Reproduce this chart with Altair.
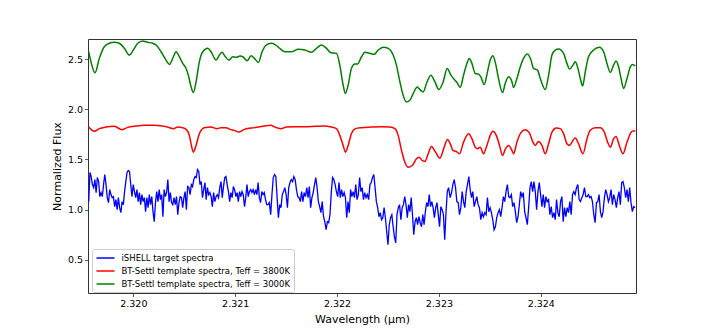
import altair as alt
import numpy as np
import pandas as pd

# ---------------- data ----------------
S_BLUE = "iSHELL target spectra"
S_RED = "BT-Settl template spectra, Teff = 3800K"
S_GREEN = "BT-Settl template spectra, Teff = 3000K"

X_DOMAIN = [2.319555, 2.324935]
Y_DOMAIN = [0.17, 2.70]
X_TICKS = [2.320, 2.321, 2.322, 2.323, 2.324]
Y_TICKS = [0.5, 1.0, 1.5, 2.0, 2.5]

# iSHELL observed spectrum: three stretches of detector pixels (start, end wavelength)
blue_ranges = [(2.319562, 2.321310), (2.321323, 2.323095), (2.323111, 2.324925)]
blue_flux_1 = [
    1.08, 1.37, 1.33, 1.25, 1.22, 1.30, 1.17, 1.32, 1.28, 1.13,
    1.17, 1.13, 1.25, 1.35, 1.25, 1.12, 1.07, 1.20, 1.15, 1.12,
    1.13, 1.03, 1.10, 1.00, 1.12, 1.02, 0.97, 1.08, 1.05, 1.18,
    1.28, 1.37, 1.39, 1.38, 1.25, 1.13, 1.25, 1.18, 1.12, 1.20,
    1.08, 1.17, 1.05, 1.15, 1.08, 1.12, 0.98, 1.12, 1.02, 1.15,
    1.05, 1.13, 0.98, 0.88, 1.07, 1.18, 1.08, 1.20, 1.10, 1.15,
    0.93, 1.20, 1.13, 1.17, 1.30, 1.08, 1.17, 1.07, 1.05, 1.12,
    1.05, 1.13, 0.95, 1.07, 1.13, 1.12, 1.02, 1.12, 1.18, 1.00,
    1.23, 1.22, 1.15, 1.25, 1.23, 1.30, 1.33, 1.32, 1.40, 1.38,
    1.25, 1.28, 1.12, 1.20, 1.27, 1.10, 1.22, 1.15, 1.17, 1.13,
    1.03, 1.17, 1.08, 1.13, 1.15, 1.12, 1.22, 1.28, 1.12, 1.23,
    1.32, 1.33, 1.25, 1.18, 1.08, 1.17, 1.12, 1.23, 1.20, 1.13,
    1.17, 1.08, 1.18, 1.13, 1.18, 1.15, 1.03, 1.12, 1.25, 1.13,
    1.18, 1.20, 1.17, 1.20, 1.15, 1.20, 1.15, 1.27, 1.12, 1.07,
    1.18, 1.15, 1.17, 1.10, 1.05,
]
blue_flux_2 = [
    1.05, 1.07, 0.95, 1.15, 1.32, 1.35, 1.33, 1.12, 0.92, 1.05,
    1.02, 1.15, 1.18, 1.22, 1.15, 1.02, 1.22, 1.27, 1.30, 1.28,
    1.33, 1.30, 1.20, 1.13, 1.12, 1.08, 1.18, 1.08, 1.17, 1.13,
    1.22, 1.12, 1.23, 1.02, 1.12, 1.17, 1.25, 1.32, 1.22, 1.08,
    1.03, 0.97, 1.08, 0.93, 0.88, 0.80, 0.88, 0.87, 0.95, 1.17,
    1.32, 1.30, 1.25, 1.18, 1.13, 1.27, 1.12, 1.20, 1.13, 1.17,
    1.12, 0.92, 1.08, 0.97, 1.20, 1.13, 1.18, 1.12, 1.25, 1.10,
    1.15, 1.32, 1.18, 1.22, 1.10, 1.17, 1.12, 1.15, 1.10, 1.25,
    1.27, 1.32, 1.35, 1.22, 1.08, 1.02, 0.93, 0.97, 0.90, 0.92,
    1.02, 0.92, 0.78, 0.65, 0.85, 0.92, 0.95, 0.83, 0.73, 0.67,
    0.95, 1.02, 1.05, 0.90, 1.02, 1.05, 1.13, 1.05, 0.92, 1.05,
    0.98, 1.12, 0.95, 0.75, 0.88, 0.92, 0.85, 0.93, 0.87, 0.83,
    0.95, 0.85, 0.98, 1.07, 1.03, 1.15, 1.03, 1.08, 1.02, 0.92,
    1.02, 1.07, 0.95, 0.83, 1.03, 1.00, 0.95, 0.70, 0.97, 1.18,
    1.22,
]
blue_flux_3 = [
    1.12, 1.17, 1.25, 1.30, 1.22, 1.08, 1.07, 0.95, 1.02, 1.18,
    1.08, 1.02, 1.18, 1.25, 1.33, 1.20, 1.12, 1.18, 1.03, 1.08,
    1.13, 1.05, 1.02, 0.90, 0.97, 0.93, 0.97, 0.95, 1.12, 0.98,
    1.02, 0.97, 0.90, 0.80, 0.83, 0.92, 0.97, 1.00, 0.93, 1.02,
    1.13, 1.08, 1.18, 1.25, 1.13, 1.12, 1.15, 1.03, 1.07, 0.98,
    0.87, 0.93, 1.05, 1.18, 1.13, 1.17, 0.98, 0.92, 0.85, 1.02,
    1.22, 1.28, 1.18, 1.28, 1.18, 1.00, 1.18, 1.27, 1.15, 1.03,
    1.15, 1.02, 1.13, 1.08, 1.10, 0.95, 1.03, 0.92, 0.97, 0.90,
    1.10, 0.97, 0.93, 1.08, 1.13, 0.88, 1.02, 0.93, 1.02, 0.97,
    1.08, 0.95, 1.15, 1.18, 1.15, 1.22, 1.25, 1.10, 1.08, 1.12,
    1.15, 1.22, 1.13, 1.13, 1.15, 1.12, 1.13, 1.08, 0.95, 0.87,
    1.07, 1.08, 1.15, 0.98, 0.92, 0.98, 1.12, 1.20, 1.15, 1.08,
    1.12, 1.20, 1.05, 1.15, 1.10, 1.02, 1.12, 1.18, 1.05, 1.27,
    1.28, 1.22, 1.12, 1.20, 1.08, 1.22, 1.07, 0.98, 1.03, 1.02,
]

green_wave = [
    2.319562, 2.319584, 2.319624, 2.319666, 2.319715, 2.319764, 2.319813, 2.319862,
    2.319912, 2.319961, 2.320010, 2.320043, 2.320092, 2.320141, 2.320191, 2.320223,
    2.320272, 2.320321, 2.320354, 2.320393, 2.320419, 2.320452, 2.320485, 2.320518,
    2.320540, 2.320567, 2.320589, 2.320616, 2.320648, 2.320682, 2.320731, 2.320763,
    2.320812, 2.320845, 2.320871, 2.320904, 2.320937, 2.320976, 2.321009, 2.321048,
    2.321075, 2.321117, 2.321156, 2.321189, 2.321228, 2.321264, 2.321304, 2.321353,
    2.321389, 2.321438, 2.321487, 2.321552, 2.321618, 2.321684, 2.321748, 2.321798,
    2.321847, 2.321896, 2.321939, 2.321994, 2.322027, 2.322060, 2.322082, 2.322109,
    2.322141, 2.322175, 2.322200, 2.322240, 2.322273, 2.322322, 2.322364, 2.322404,
    2.322453, 2.322502, 2.322551, 2.322583, 2.322617, 2.322649, 2.322679, 2.322715,
    2.322748, 2.322787, 2.322819, 2.322846, 2.322878, 2.322921, 2.322961, 2.323000,
    2.323042, 2.323081, 2.323118, 2.323143, 2.323177, 2.323209, 2.323242, 2.323275,
    2.323298, 2.323324, 2.323356, 2.323389, 2.323412, 2.323445, 2.323477, 2.323504,
    2.323530, 2.323556, 2.323585, 2.323625, 2.323651, 2.323684, 2.323717, 2.323733,
    2.323766, 2.323799, 2.323831, 2.323870, 2.323904, 2.323929, 2.323968, 2.323995,
    2.324044, 2.324077, 2.324110, 2.324142, 2.324175, 2.324224, 2.324257, 2.324283,
    2.324316, 2.324339, 2.324365, 2.324388, 2.324411, 2.324437, 2.324469, 2.324519,
    2.324575, 2.324617, 2.324650, 2.324683, 2.324715, 2.324739, 2.324764, 2.324788,
    2.324813, 2.324847, 2.324879, 2.324902, 2.324928,
]
green_flux = [
    2.573, 2.473, 2.363, 2.507, 2.623, 2.657, 2.667, 2.657,
    2.607, 2.540, 2.607, 2.657, 2.680, 2.667, 2.657, 2.640,
    2.573, 2.490, 2.447, 2.523, 2.573, 2.523, 2.457, 2.407,
    2.340, 2.223, 2.167, 2.273, 2.473, 2.573, 2.607, 2.573,
    2.490, 2.540, 2.567, 2.523, 2.490, 2.523, 2.517, 2.530,
    2.523, 2.483, 2.533, 2.507, 2.467, 2.573, 2.640, 2.657,
    2.647, 2.607, 2.573, 2.573, 2.597, 2.590, 2.567, 2.607,
    2.640, 2.607, 2.563, 2.557, 2.440, 2.240, 2.157, 2.240,
    2.407, 2.450, 2.450, 2.523, 2.567, 2.557, 2.547, 2.590,
    2.617, 2.607, 2.540, 2.440, 2.273, 2.140, 2.073, 2.090,
    2.157, 2.223, 2.190, 2.173, 2.257, 2.340, 2.273, 2.197,
    2.273, 2.407, 2.340, 2.307, 2.267, 2.217, 2.340, 2.457,
    2.507, 2.457, 2.357, 2.350, 2.323, 2.247, 2.373, 2.490,
    2.533, 2.457, 2.307, 2.167, 2.257, 2.323, 2.273, 2.217,
    2.307, 2.423, 2.507, 2.550, 2.490, 2.407, 2.390, 2.307,
    2.197, 2.340, 2.540, 2.590, 2.600, 2.557, 2.457, 2.400,
    2.440, 2.473, 2.407, 2.307, 2.233, 2.373, 2.523, 2.590,
    2.617, 2.573, 2.457, 2.367, 2.440, 2.480, 2.423, 2.307,
    2.207, 2.307, 2.423, 2.447, 2.433,
]

red_wave = [
    2.319562, 2.319617, 2.319666, 2.319732, 2.319813, 2.319889, 2.319945, 2.320027,
    2.320108, 2.320191, 2.320289, 2.320354, 2.320393, 2.320436, 2.320485, 2.320518,
    2.320550, 2.320570, 2.320589, 2.320616, 2.320648, 2.320697, 2.320763, 2.320822,
    2.320861, 2.320911, 2.320950, 2.320992, 2.321035, 2.321090, 2.321156, 2.321222,
    2.321287, 2.321353, 2.321389, 2.321448, 2.321503, 2.321585, 2.321684, 2.321782,
    2.321863, 2.321945, 2.321994, 2.322027, 2.322060, 2.322082, 2.322109, 2.322141,
    2.322181, 2.322240, 2.322338, 2.322436, 2.322519, 2.322568, 2.322600, 2.322633,
    2.322666, 2.322698, 2.322738, 2.322780, 2.322803, 2.322836, 2.322862, 2.322895,
    2.322927, 2.322967, 2.323010, 2.323052, 2.323084, 2.323118, 2.323137, 2.323170,
    2.323202, 2.323242, 2.323291, 2.323324, 2.323356, 2.323379, 2.323406, 2.323438,
    2.323471, 2.323504, 2.323530, 2.323563, 2.323595, 2.323625, 2.323654, 2.323684,
    2.323717, 2.323733, 2.323766, 2.323805, 2.323848, 2.323887, 2.323923, 2.323946,
    2.323978, 2.324012, 2.324044, 2.324077, 2.324110, 2.324152, 2.324191, 2.324224,
    2.324257, 2.324283, 2.324316, 2.324339, 2.324371, 2.324414, 2.324454, 2.324486,
    2.324535, 2.324584, 2.324624, 2.324656, 2.324683, 2.324715, 2.324739, 2.324771,
    2.324807, 2.324847, 2.324879, 2.324902, 2.324928,
]
red_flux = [
    1.823, 1.780, 1.807, 1.823, 1.830, 1.797, 1.820, 1.833,
    1.840, 1.840, 1.833, 1.817, 1.807, 1.823, 1.817, 1.800,
    1.740, 1.640, 1.573, 1.640, 1.757, 1.817, 1.823, 1.807,
    1.817, 1.817, 1.800, 1.790, 1.773, 1.800, 1.813, 1.823,
    1.833, 1.840, 1.823, 1.807, 1.823, 1.827, 1.827, 1.830,
    1.833, 1.823, 1.807, 1.740, 1.640, 1.573, 1.640, 1.757,
    1.807, 1.817, 1.823, 1.827, 1.823, 1.807, 1.740, 1.590,
    1.473, 1.423, 1.440, 1.507, 1.523, 1.490, 1.480, 1.557,
    1.630, 1.573, 1.513, 1.623, 1.700, 1.640, 1.590, 1.580,
    1.557, 1.673, 1.757, 1.707, 1.623, 1.607, 1.623, 1.557,
    1.640, 1.740, 1.780, 1.740, 1.640, 1.540, 1.607, 1.640,
    1.590, 1.557, 1.673, 1.767, 1.797, 1.767, 1.673, 1.640,
    1.680, 1.640, 1.557, 1.657, 1.773, 1.813, 1.807, 1.757,
    1.657, 1.640, 1.690, 1.713, 1.657, 1.557, 1.707, 1.790,
    1.817, 1.817, 1.773, 1.673, 1.623, 1.707, 1.730, 1.640,
    1.557, 1.673, 1.757, 1.783, 1.783,
]

# ---------------- tables ----------------
blue_wave = []
blue_flux = []
for (w0, w1), seg in zip(blue_ranges, [blue_flux_1, blue_flux_2, blue_flux_3]):
    blue_wave.extend(np.linspace(w0, w1, len(seg)).tolist())
    blue_flux.extend(seg)

df_blue = pd.DataFrame({"wavelength": blue_wave, "flux": blue_flux, "series": S_BLUE})
df_models = pd.concat([
    pd.DataFrame({"wavelength": red_wave, "flux": red_flux, "series": S_RED}),
    pd.DataFrame({"wavelength": green_wave, "flux": green_flux, "series": S_GREEN}),
], ignore_index=True)

FONT = "DejaVu Sans"

color = alt.Color(
    "series:N",
    scale=alt.Scale(domain=[S_BLUE, S_RED, S_GREEN], range=["#0000ff", "#ff0000", "#008000"]),
    legend=alt.Legend(
        title=None,
        orient="none",
        legendX=4,
        legendY=210,
        symbolType="M-1,0H3",
        symbolSize=81,
        symbolStrokeWidth=1.5,
        labelFont=FONT,
        labelFontSize=8.5,
        labelColor="#000000",
        labelLimit=400,
        labelOffset=15,
        rowPadding=3,
        padding=3.5,
        fillColor="#ffffff",
        strokeColor="#cccccc",
        cornerRadius=2,
    ),
)

x_enc = alt.X(
    "wavelength:Q",
    scale=alt.Scale(domain=X_DOMAIN, nice=False, zero=False),
    axis=alt.Axis(values=X_TICKS, format=".3f", title="Wavelength (μm)"),
)
y_enc = alt.Y(
    "flux:Q",
    scale=alt.Scale(domain=Y_DOMAIN, nice=False, zero=False),
    axis=alt.Axis(values=Y_TICKS, format=".1f", title="Normalized Flux"),
)

blue = alt.Chart(df_blue).mark_line(strokeWidth=1.3, clip=True).encode(
    x=x_enc, y=y_enc, color=color
)
models = alt.Chart(df_models).mark_line(strokeWidth=1.5, interpolate="monotone", clip=True).encode(
    x=x_enc, y=y_enc, color=color, detail="series:N"
)

chart = (
    alt.layer(blue, models)
    .properties(
        width=548,
        height=254,
        autosize=alt.AutoSizeParams(type="none"),
        padding={"left": 80, "top": 31, "right": 62, "bottom": 33},
    )
    .configure_view(stroke="#333333", strokeWidth=1)
    .configure_axis(
        grid=False,
        domain=False,
        ticks=True,
        tickColor="#333333",
        tickSize=3.5,
        tickWidth=0.8,
        labelFont=FONT,
        labelFontSize=9.5,
        labelColor="#000000",
        labelPadding=2,
        titleFont=FONT,
        titleFontSize=11,
        titleFontWeight="normal",
        titleColor="#000000",
        titlePadding=5,
    )
)

chart.save("out.html", embed_options={"renderer": "svg", "actions": False})
